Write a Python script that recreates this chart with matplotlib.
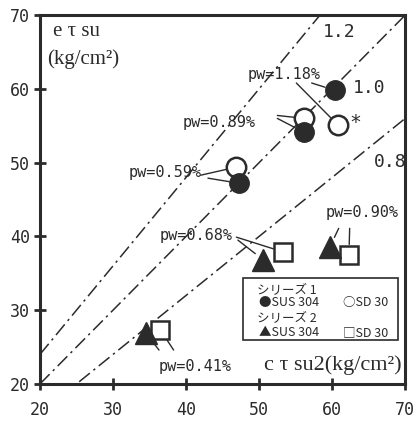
import matplotlib
matplotlib.use("Agg")
import matplotlib.pyplot as plt
from matplotlib.patches import Rectangle
import numpy as np

# data
pw_s1 = ["1.18", "0.89", "0.59"]
sus_s1_x = [60.4, 56.2, 47.3]
sus_s1_y = [59.8, 54.1, 47.2]
sd_s1_x = [60.8, 56.2, 46.9]
sd_s1_y = [55.1, 56.0, 49.4]

pw_s2 = ["0.68", "0.90", "0.41"]
sus_s2_x = [50.6, 59.7, 34.5]
sus_s2_y = [36.8, 38.6, 26.9]
sd_s2_x = [53.3, 62.3, 36.5]
sd_s2_y = [37.9, 37.5, 27.3]

ratios = [1.2, 1.0, 0.8]
ratio_labels = ["1.2", "1.0", "0.8"]

xticks = [20, 30, 40, 50, 60, 70]
yticks = [20, 30, 40, 50, 60, 70]

ink = "#2b2b2b"
mono = "DejaVu Sans Mono"
serif = "Liberation Serif"
jp = ["Noto Sans CJK JP", "DejaVu Sans"]

fig = plt.figure(figsize=(4.16, 4.21), dpi=100)
ax = fig.add_axes([0.096, 0.088, 0.878, 0.876])
ax.set_xlim(20, 70)
ax.set_ylim(20, 70)

# ratio lines  y = k x
xx = np.array([20, 70])
for k in ratios:
    ax.plot(xx, k * xx, color=ink, lw=1.1, ls=(0, (9, 3, 1.5, 3)), zorder=1)
ratio_pos = [(60.9, 67.7), (65.0, 60.1), (67.9, 50.1)]
for lab, (tx, ty) in zip(ratio_labels, ratio_pos):
    ax.text(tx, ty, lab, family=mono, fontsize=13, color=ink,
            ha="center", va="center")

# markers
ax.plot(sus_s1_x, sus_s1_y, "o", ms=14, mfc=ink, mec=ink, zorder=4)
ax.plot(sd_s1_x, sd_s1_y, "o", ms=14, mfc="white", mec=ink, mew=1.8, zorder=3)
ax.plot(sus_s2_x, sus_s2_y, "^", ms=16, mfc=ink, mec=ink, zorder=4)
ax.plot(sd_s2_x, sd_s2_y, "s", ms=13.5, mfc="white", mec=ink, mew=1.8, zorder=3)

# pw labels and leader lines
label_pos = [(53.4, 61.9), (44.5, 55.4), (37.1, 48.7),
             (41.4, 40.1), (64.1, 43.2), (41.3, 22.3)]
lead_sus = [(57.2, 60.8), (52.5, 56.0), (43.0, 47.9),
            (47.1, 39.5), (60.9, 41.1), (36.3, 24.6)]
lead_sd = [(55.1, 60.8), (52.5, 56.4), (42.0, 48.3),
           (46.9, 39.9), (62.4, 41.1), (38.3, 24.6)]
pws = pw_s1 + pw_s2
sus_pts = list(zip(sus_s1_x + sus_s2_x, sus_s1_y + sus_s2_y))
sd_pts = list(zip(sd_s1_x + sd_s2_x, sd_s1_y + sd_s2_y))
for i, p in enumerate(pws):
    ax.text(label_pos[i][0], label_pos[i][1], "pw=" + p + "%", family=mono,
            fontsize=11, color=ink, ha="center", va="center")
    for start, pt in ((lead_sus[i], sus_pts[i]), (lead_sd[i], sd_pts[i])):
        ax.annotate("", xy=pt, xytext=start,
                    arrowprops=dict(arrowstyle="-", color=ink, lw=1.0,
                                    shrinkA=0, shrinkB=7.5), zorder=2)
ax.text(63.1, 55.5, "*", family=mono, fontsize=14, color=ink,
        ha="center", va="center")

# axis titles inside the frame
ax.text(0.035, 0.955, "e \u03c4 su", transform=ax.transAxes, family=serif,
        fontsize=15, color=ink, ha="left", va="center")
ax.text(0.02, 0.88, "(kg/cm\u00b2)", transform=ax.transAxes, family=serif,
        fontsize=15, color=ink, ha="left", va="center")
ax.text(0.99, 0.05, "c \u03c4 su2(kg/cm\u00b2)", transform=ax.transAxes,
        family=serif, fontsize=16, color=ink, ha="right", va="center")

# legend box drawn by hand
ax.add_patch(Rectangle((0.556, 0.118), 0.425, 0.170, transform=ax.transAxes,
                       fill=False, ec=ink, lw=1.2, zorder=5))
legend_rows = [
    (0.255, [(0.595, "シリーズ 1")]),
    (0.22, [(0.6, "●SUS 304"), (0.83, "○SD 30")]),
    (0.18, [(0.595, "シリーズ 2")]),
    (0.14, [(0.6, "▲SUS 304"), (0.83, "□SD 30")]),
]
for ry, items in legend_rows:
    for rx, s in items:
        ax.text(rx, ry, s, transform=ax.transAxes, family=jp, fontsize=9,
                color=ink, ha="left", va="center", zorder=6)

# frame and ticks
for sp in ax.spines.values():
    sp.set_linewidth(2.2)
    sp.set_color(ink)
ax.set_xticks(xticks)
ax.set_yticks(yticks)
ax.tick_params(direction="inout", length=8, width=2, color=ink,
               labelcolor=ink)
ax.tick_params(axis="x", labelsize=12, pad=8)
ax.tick_params(axis="y", labelsize=12, pad=3)
for t in ax.get_xticklabels() + ax.get_yticklabels():
    t.set_family(mono)

fig.savefig("out.png", dpi=100)
